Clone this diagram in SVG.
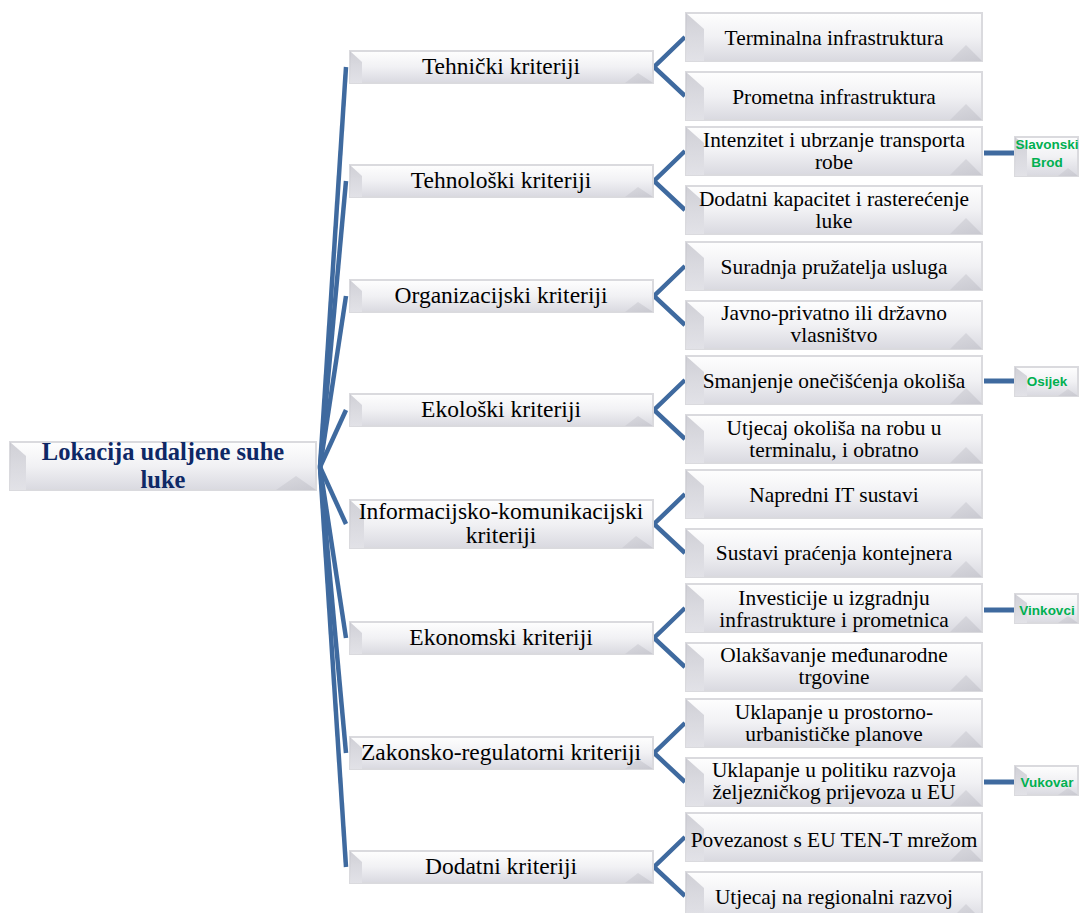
<svg xmlns="http://www.w3.org/2000/svg" width="1080" height="913" viewBox="0 0 1080 913">
<defs>
<linearGradient id="gBody" x1="0" y1="0" x2="0" y2="1">
<stop offset="0" stop-color="#fefefe"/>
<stop offset="0.5" stop-color="#f1f1f4"/>
<stop offset="1" stop-color="#d9d9e0"/>
</linearGradient>
<linearGradient id="gLeft" x1="0" y1="0" x2="0" y2="1">
<stop offset="0" stop-color="#c4c4cc"/>
<stop offset="1" stop-color="#e4e4e9"/>
</linearGradient>
<linearGradient id="gBR" x1="0" y1="0" x2="1" y2="1">
<stop offset="0" stop-color="#d4d4da"/>
<stop offset="1" stop-color="#c2c2ca"/>
</linearGradient>
</defs>
<style>
.box{fill:url(#gBody);stroke:#dadade;stroke-width:2}
.bl{fill:url(#gLeft);opacity:0.8}
.br{fill:url(#gBR);opacity:0.7}
.root{font-family:"Liberation Serif","Times New Roman",serif;font-weight:bold;font-size:24.5px;fill:#0e2866;text-anchor:middle}
.crit{font-family:"Liberation Serif","Times New Roman",serif;font-size:23.5px;fill:#000;text-anchor:middle}
.leaf{font-family:"Liberation Serif","Times New Roman",serif;font-size:21.4px;fill:#000;text-anchor:middle}
.city{font-family:"Liberation Sans",Arial,sans-serif;font-weight:bold;font-size:13.5px;fill:#00b050;text-anchor:middle}
.con{stroke:#3f6a9f;stroke-width:4.5;fill:none;stroke-linecap:butt}
.con2{stroke:#3f6a9f;stroke-width:5;fill:none}
</style>
<rect width="1080" height="913" fill="#ffffff"/>

<g id="connectors">
<line class="con" x1="320" y1="467" x2="346" y2="67"/>
<line class="con" x1="320" y1="467" x2="346" y2="181"/>
<line class="con" x1="320" y1="467" x2="346" y2="296"/>
<line class="con" x1="320" y1="467" x2="346" y2="410"/>
<line class="con" x1="320" y1="467" x2="346" y2="524"/>
<line class="con" x1="320" y1="467" x2="346" y2="638"/>
<line class="con" x1="320" y1="467" x2="346" y2="753"/>
<line class="con" x1="320" y1="467" x2="346" y2="867"/>
<polyline class="con" points="685,37 654,67 685,96"/>
<polyline class="con" points="685,151 654,181 685,210"/>
<polyline class="con" points="685,266 654,296 685,325"/>
<polyline class="con" points="685,380 654,410 685,439"/>
<polyline class="con" points="685,494 654,524 685,553"/>
<polyline class="con" points="685,608 654,638 685,667"/>
<polyline class="con" points="685,723 654,753 685,782"/>
<polyline class="con" points="685,837 654,867 685,896"/>
<line class="con2" x1="984" y1="153" x2="1014" y2="153"/>
<line class="con2" x1="984" y1="381" x2="1014" y2="381"/>
<line class="con2" x1="984" y1="610" x2="1014" y2="610"/>
<line class="con2" x1="984" y1="782" x2="1014" y2="782"/>
</g>

<g id="root">
<rect class="box" x="10" y="442" width="306" height="48"/>
<polygon class="bl" points="10,442 26,456 26,490 10,490"/>
<polygon class="br" points="296,476 316,490 276,490"/>
<text class="root" x="163" y="460">Lokacija udaljene suhe</text>
<text class="root" x="163" y="488">luke</text>
</g>

<g id="c1">
<rect class="box" x="350" y="51" width="303" height="32"/>
<polygon class="bl" points="350,51 362,62 362,83 350,83"/>
<polygon class="br" points="638,73 653,83 625,83"/>
<text class="crit" x="501" y="74">Tehnički kriteriji</text>
</g>
<g id="c2">
<rect class="box" x="350" y="165" width="303" height="32"/>
<polygon class="bl" points="350,165 362,176 362,197 350,197"/>
<polygon class="br" points="638,187 653,197 625,197"/>
<text class="crit" x="501" y="188">Tehnološki kriteriji</text>
</g>
<g id="c3">
<rect class="box" x="350" y="280" width="303" height="32"/>
<polygon class="bl" points="350,280 362,291 362,312 350,312"/>
<polygon class="br" points="638,302 653,312 625,312"/>
<text class="crit" x="501" y="303">Organizacijski kriteriji</text>
</g>
<g id="c4">
<rect class="box" x="350" y="394" width="303" height="32"/>
<polygon class="bl" points="350,394 362,405 362,426 350,426"/>
<polygon class="br" points="638,416 653,426 625,426"/>
<text class="crit" x="501" y="417">Ekološki kriteriji</text>
</g>
<g id="c5">
<rect class="box" x="350" y="500" width="303" height="48"/>
<polygon class="bl" points="350,500 364,513 364,548 350,548"/>
<polygon class="br" points="636,536 653,548 622,548"/>
<text class="crit" x="501" y="519">Informacijsko-komunikacijski</text>
<text class="crit" x="501" y="543">kriteriji</text>
</g>
<g id="c6">
<rect class="box" x="350" y="622" width="303" height="32"/>
<polygon class="bl" points="350,622 362,633 362,654 350,654"/>
<polygon class="br" points="638,644 653,654 625,654"/>
<text class="crit" x="501" y="645">Ekonomski kriteriji</text>
</g>
<g id="c7">
<rect class="box" x="350" y="737" width="303" height="32"/>
<polygon class="bl" points="350,737 362,748 362,769 350,769"/>
<polygon class="br" points="638,759 653,769 625,769"/>
<text class="crit" x="501" y="760">Zakonsko-regulatorni kriteriji</text>
</g>
<g id="c8">
<rect class="box" x="350" y="851" width="303" height="32"/>
<polygon class="bl" points="350,851 362,862 362,883 350,883"/>
<polygon class="br" points="638,873 653,883 625,883"/>
<text class="crit" x="501" y="874">Dodatni kriteriji</text>
</g>

<g id="l1a">
<rect class="box" x="686" y="13" width="296" height="48"/>
<polygon class="bl" points="686,13 704,29 704,61 686,61"/>
<polygon class="br" points="966,45 982,61 950,61"/>
<text class="leaf" x="834" y="45">Terminalna infrastruktura</text>
</g>
<g id="l1b">
<rect class="box" x="686" y="72" width="296" height="48"/>
<polygon class="bl" points="686,72 704,88 704,120 686,120"/>
<polygon class="br" points="966,104 982,120 950,120"/>
<text class="leaf" x="834" y="104">Prometna infrastruktura</text>
</g>
<g id="l2a">
<rect class="box" x="686" y="127" width="296" height="48"/>
<polygon class="bl" points="686,127 704,143 704,175 686,175"/>
<polygon class="br" points="966,159 982,175 950,175"/>
<text class="leaf" x="834" y="147">Intenzitet i ubrzanje transporta</text>
<text class="leaf" x="834" y="169">robe</text>
</g>
<g id="l2b">
<rect class="box" x="686" y="186" width="296" height="48"/>
<polygon class="bl" points="686,186 704,202 704,234 686,234"/>
<polygon class="br" points="966,218 982,234 950,234"/>
<text class="leaf" x="834" y="206">Dodatni kapacitet i rasterećenje</text>
<text class="leaf" x="834" y="228">luke</text>
</g>
<g id="l3a">
<rect class="box" x="686" y="242" width="296" height="48"/>
<polygon class="bl" points="686,242 704,258 704,290 686,290"/>
<polygon class="br" points="966,274 982,290 950,290"/>
<text class="leaf" x="834" y="274">Suradnja pružatelja usluga</text>
</g>
<g id="l3b">
<rect class="box" x="686" y="301" width="296" height="48"/>
<polygon class="bl" points="686,301 704,317 704,349 686,349"/>
<polygon class="br" points="966,333 982,349 950,349"/>
<text class="leaf" x="834" y="320">Javno-privatno ili državno</text>
<text class="leaf" x="834" y="342">vlasništvo</text>
</g>
<g id="l4a">
<rect class="box" x="686" y="356" width="296" height="48"/>
<polygon class="bl" points="686,356 704,372 704,404 686,404"/>
<polygon class="br" points="966,388 982,404 950,404"/>
<text class="leaf" x="834" y="388">Smanjenje onečišćenja okoliša</text>
</g>
<g id="l4b">
<rect class="box" x="686" y="415" width="296" height="48"/>
<polygon class="bl" points="686,415 704,431 704,463 686,463"/>
<polygon class="br" points="966,447 982,463 950,463"/>
<text class="leaf" x="834" y="435">Utjecaj okoliša na robu u</text>
<text class="leaf" x="834" y="457">terminalu, i obratno</text>
</g>
<g id="l5a">
<rect class="box" x="686" y="470" width="296" height="48"/>
<polygon class="bl" points="686,470 704,486 704,518 686,518"/>
<polygon class="br" points="966,502 982,518 950,518"/>
<text class="leaf" x="834" y="502">Napredni IT sustavi</text>
</g>
<g id="l5b">
<rect class="box" x="686" y="529" width="296" height="48"/>
<polygon class="bl" points="686,529 704,545 704,577 686,577"/>
<polygon class="br" points="966,561 982,577 950,577"/>
<text class="leaf" x="834" y="560">Sustavi praćenja kontejnera</text>
</g>
<g id="l6a">
<rect class="box" x="686" y="584" width="296" height="48"/>
<polygon class="bl" points="686,584 704,600 704,632 686,632"/>
<polygon class="br" points="966,616 982,632 950,632"/>
<text class="leaf" x="834" y="605">Investicije u izgradnju</text>
<text class="leaf" x="834" y="627">infrastrukture i prometnica</text>
</g>
<g id="l6b">
<rect class="box" x="686" y="643" width="296" height="48"/>
<polygon class="bl" points="686,643 704,659 704,691 686,691"/>
<polygon class="br" points="966,675 982,691 950,691"/>
<text class="leaf" x="834" y="662">Olakšavanje međunarodne</text>
<text class="leaf" x="834" y="684">trgovine</text>
</g>
<g id="l7a">
<rect class="box" x="686" y="699" width="296" height="48"/>
<polygon class="bl" points="686,699 704,715 704,747 686,747"/>
<polygon class="br" points="966,731 982,747 950,747"/>
<text class="leaf" x="834" y="719">Uklapanje u prostorno-</text>
<text class="leaf" x="834" y="741">urbanističke planove</text>
</g>
<g id="l7b">
<rect class="box" x="686" y="758" width="296" height="48"/>
<polygon class="bl" points="686,758 704,774 704,806 686,806"/>
<polygon class="br" points="966,790 982,806 950,806"/>
<text class="leaf" x="834" y="777">Uklapanje u politiku razvoja</text>
<text class="leaf" x="834" y="799">željezničkog prijevoza u EU</text>
</g>
<g id="l8a">
<rect class="box" x="686" y="813" width="296" height="48"/>
<polygon class="bl" points="686,813 704,829 704,861 686,861"/>
<polygon class="br" points="966,845 982,861 950,861"/>
<text class="leaf" x="834" y="847">Povezanost s EU TEN-T mrežom</text>
</g>
<g id="l8b">
<rect class="box" x="686" y="872" width="296" height="48"/>
<polygon class="bl" points="686,872 704,888 704,920 686,920"/>
<polygon class="br" points="966,904 982,920 950,920"/>
<text class="leaf" x="834" y="904">Utjecaj na regionalni razvoj</text>
</g>

<g id="city1">
<rect class="box" x="1015" y="137" width="63" height="39"/>
<polygon class="bl" points="1015,137 1027,147 1027,176 1015,176"/>
<polygon class="br" points="1068,168 1078,176 1058,176"/>
<text class="city" x="1047" y="149">Slavonski</text>
<text class="city" x="1047" y="167">Brod</text>
</g>
<g id="city2">
<rect class="box" x="1015" y="367" width="63" height="29"/>
<polygon class="bl" points="1015,367 1027,376 1027,396 1015,396"/>
<polygon class="br" points="1068,389 1078,396 1058,396"/>
<text class="city" x="1047" y="386">Osijek</text>
</g>
<g id="city3">
<rect class="box" x="1015" y="594" width="63" height="29"/>
<polygon class="bl" points="1015,594 1027,603 1027,623 1015,623"/>
<polygon class="br" points="1068,616 1078,623 1058,623"/>
<text class="city" x="1047" y="615">Vinkovci</text>
</g>
<g id="city4">
<rect class="box" x="1015" y="766" width="63" height="29"/>
<polygon class="bl" points="1015,766 1027,775 1027,795 1015,795"/>
<polygon class="br" points="1068,788 1078,795 1058,795"/>
<text class="city" x="1047" y="787">Vukovar</text>
</g>
</svg>
